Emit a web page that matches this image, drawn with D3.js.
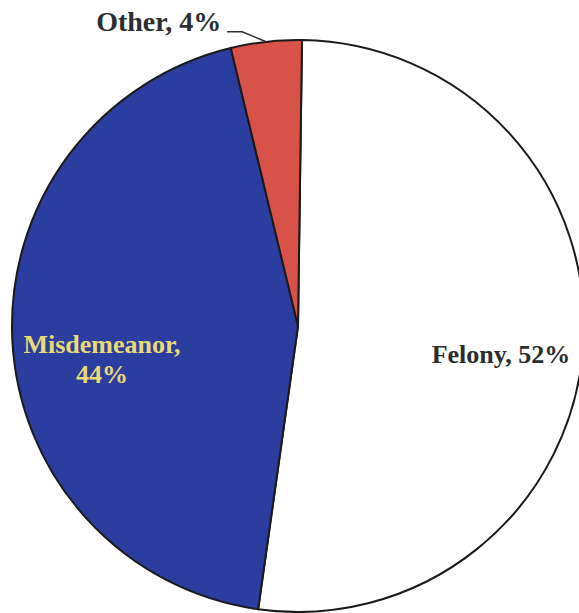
<!DOCTYPE html>
<html>
<head>
<meta charset="utf-8">
<script src="https://cdn.jsdelivr.net/npm/d3@7"></script>
<style>
  body { margin: 0; background: #fff; }
  svg { display: block; }
</style>
</head>
<body>
<div id="chart"></div>
<script>
const categories = ["Felony", "Misdemeanor", "Other"];
const shares = [52, 44, 4];
const labels = ["Felony, 52%", "Misdemeanor,\n44%", "Other, 4%"];

const width = 579, height = 613;
const cx = 298, cy = 326, radius = 286;

const colors = d3.scaleOrdinal()
    .domain(categories)
    .range(["#ffffff", "#2b3d9e", "#d8524a"]);

const data = categories.map((c, i) => ({ name: c, value: shares[i], label: labels[i] }));

const svg = d3.select("#chart")
    .append("svg")
    .attr("width", width)
    .attr("height", height);

const g = svg.append("g")
    .attr("transform", `translate(${cx},${cy})`);

// scan is a bit rotated, so start a hair past 12 o'clock
const pie = d3.pie()
    .value(d => d.value)
    .sort(null)
    .startAngle(0.014)
    .endAngle(2 * Math.PI + 0.014);

const arc = d3.arc()
    .innerRadius(0)
    .outerRadius(radius);

const arcs = pie(data);

g.selectAll("path")
    .data(arcs)
    .enter()
    .append("path")
    .attr("d", arc)
    .attr("fill", d => colors(d.data.name))
    .attr("stroke", "#1a1a1a")
    .attr("stroke-width", 2);

// labels
const font = "'Liberation Serif', 'Times New Roman', serif";

// felony, inside right
g.append("text")
    .attr("x", 203)
    .attr("y", 37)
    .attr("text-anchor", "middle")
    .attr("font-family", font)
    .attr("font-weight", "bold")
    .attr("font-size", "26px")
    .attr("fill", "#2a2e2e")
    .text(arcs[0].data.label);

// misdemeanor, two lines in yellow
const mis = g.append("text")
    .attr("text-anchor", "middle")
    .attr("font-family", font)
    .attr("font-weight", "bold")
    .attr("font-size", "26px")
    .attr("fill", "#e8db74");
arcs[1].data.label.split("\n").forEach((t, i) => {
    mis.append("tspan")
        .attr("x", -196)
        .attr("y", 27 + i * 30)
        .text(t);
});

// other, outside with leader line
const otherMid = (arcs[2].startAngle + arcs[2].endAngle) / 2;
const edge = [Math.sin(otherMid) * radius, -Math.cos(otherMid) * radius];
g.append("path")
    .attr("d", `M${edge[0]},${edge[1]} L${edge[0] - 24},${edge[1] - 10} L${edge[0] - 39},${edge[1] - 10}`)
    .attr("fill", "none")
    .attr("stroke", "#2a2e2e")
    .attr("stroke-width", 1.5);

g.append("text")
    .attr("x", edge[0] - 45)
    .attr("y", edge[1] - 11)
    .attr("text-anchor", "end")
    .attr("font-family", font)
    .attr("font-weight", "bold")
    .attr("font-size", "28px")
    .attr("fill", "#2a2e2e")
    .text(arcs[2].data.label);
</script>
</body>
</html>
